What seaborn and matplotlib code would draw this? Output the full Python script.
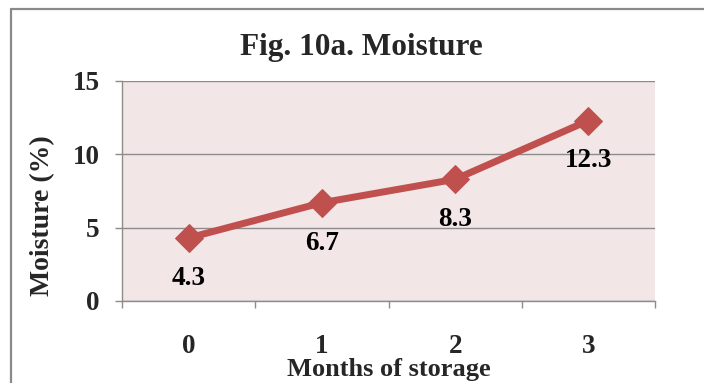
import matplotlib
matplotlib.use("Agg")
import matplotlib.pyplot as plt
from matplotlib.lines import Line2D
from matplotlib.ticker import FixedLocator
import seaborn as sns
import pandas as pd

# Moisture content over storage time
months = [0, 1, 2, 3]
month_labels = ["0", "1", "2", "3"]
moisture = [4.3, 6.7, 8.3, 12.3]
y_ticks = [0, 5, 10, 15]

sns.set_style("white")
plt.rcParams["font.family"] = ["Liberation Serif", "DejaVu Serif"]
plt.rcParams["font.weight"] = "bold"

line_color = "#C0504D"
grid_color = "#8C8C8C"
plot_bg = "#F2E6E6"

fig = plt.figure(figsize=(7.04, 3.83), dpi=100)
fig.patch.set_facecolor("white")

# chart frame: top and left edges only
fx, fy = 11 / 704, 1 - 9 / 383
fig.add_artist(Line2D([fx, 1.0], [fy, fy], transform=fig.transFigure,
                      color="#8A8A8A", linewidth=1.6))
fig.add_artist(Line2D([fx, fx], [0.0, fy], transform=fig.transFigure,
                      color="#8A8A8A", linewidth=1.6))

ax = fig.add_axes([122 / 704, 1 - 301 / 383, 533 / 704, 220 / 383])
ax.set_facecolor(plot_bg)

df = pd.DataFrame({"month": months, "moisture": moisture})
sns.lineplot(data=df, x="month", y="moisture", ax=ax, color=line_color,
             linewidth=5, marker="D", markersize=14,
             markeredgecolor=line_color, zorder=3)

for m, v in zip(months, moisture):
    ax.annotate(f"{v}", (m, v), xytext=(0, -29), textcoords="offset points",
                ha="center", va="center", fontsize=19.5, fontweight="bold",
                color="black", zorder=4)

ax.set_xlim(-0.5, 3.5)
ax.set_ylim(0, 15)

# category labels centred, tick marks between categories
ax.set_xticks(months)
ax.set_xticklabels(month_labels)
ax.xaxis.set_minor_locator(FixedLocator([-0.5, 0.5, 1.5, 2.5, 3.5]))
ax.tick_params(axis="x", which="major", length=0, pad=24, labelsize=19.5)
ax.tick_params(axis="x", which="minor", length=5, width=1,
               color=grid_color, direction="out", bottom=True)

ax.set_yticks(y_ticks)
ax.tick_params(axis="y", which="major", length=5, width=1,
               color=grid_color, direction="out", left=True, pad=11,
               labelsize=19.5)

ax.grid(axis="y", color=grid_color, linewidth=1)
ax.set_axisbelow(True)

for side in ("top", "right"):
    ax.spines[side].set_visible(False)
for side in ("left", "bottom"):
    ax.spines[side].set_color(grid_color)
    ax.spines[side].set_linewidth(1)

ax.set_xlabel("Months of storage", fontsize=19, fontweight="bold")
ax.xaxis.set_label_coords(0.5, -0.26)
ax.set_ylabel("Moisture (%)", fontsize=20, fontweight="bold")
ax.yaxis.set_label_coords(-0.126, 0.386)

fig.suptitle("Fig. 10a. Moisture", x=0.513, y=1 - 48 / 383, va="center",
             fontsize=22.5, fontweight="bold")

fig.savefig("out.png", dpi=100)
